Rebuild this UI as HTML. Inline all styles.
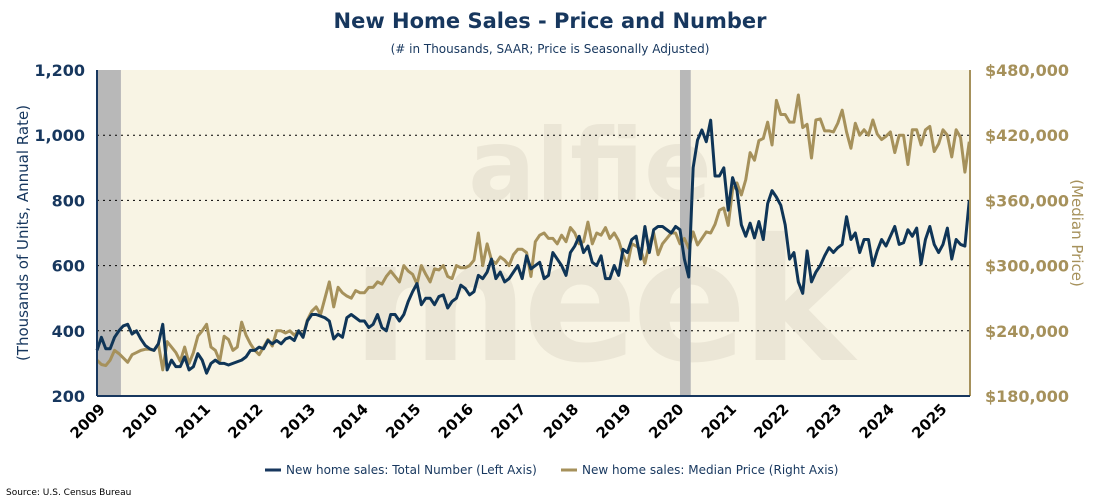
<!DOCTYPE html>
<html><head><meta charset="utf-8"><style>
body{margin:0;background:#fff;font-family:"DejaVu Sans","Liberation Sans",sans-serif;}
svg{display:block}
</style></head><body>
<svg id="chart" width="1100" height="500">
<text x="550" y="28" text-anchor="middle" font-size="21" font-weight="bold" fill="#17375e">New Home Sales - Price and Number</text>
<text x="550" y="53" text-anchor="middle" font-size="12" fill="#17375e">(# in Thousands, SAAR; Price is Seasonally Adjusted)</text>
<rect x="97" y="70" width="873" height="326" fill="#f8f4e4"/>
<text x="590" y="200" text-anchor="middle" font-size="100" font-weight="bold" fill="#ebe6d6">alfie</text>
<text x="600" y="360" text-anchor="middle" font-size="170" font-weight="bold" fill="#ebe6d6" letter-spacing="-6">meek</text>
<g id="bands"></g><g id="grid"></g><g id="series"></g>
<line x1="97" y1="70" x2="97" y2="396" stroke="#17375e" stroke-width="2"/>
<line x1="970" y1="70" x2="970" y2="396" stroke="#a6915b" stroke-width="2"/>
<line x1="97" y1="396" x2="970" y2="396" stroke="#17375e" stroke-width="2"/>
<g id="ticks"></g>
<text transform="translate(28,233) rotate(-90)" text-anchor="middle" font-size="15" fill="#17375e">(Thousands of Units, Annual Rate)</text>
<text transform="translate(1072,233) rotate(90)" text-anchor="middle" font-size="15" fill="#a6915b">(Median Price)</text>
<g><line x1="265" y1="470" x2="281" y2="470" stroke="#17375e" stroke-width="3"/><text x="286" y="474" font-size="12" fill="#17375e">New home sales: Total Number (Left Axis)</text></g>
<g><line x1="561" y1="470" x2="577" y2="470" stroke="#a6915b" stroke-width="3"/><text x="582" y="474" font-size="12" fill="#17375e">New home sales: Median Price (Right Axis)</text></g>
<text x="6" y="495" font-size="9" fill="#000">Source: U.S. Census Bureau</text>
</svg>
<script>
const years=['2009','2010','2011','2012','2013','2014','2015','2016','2017','2018','2019','2020','2021','2022','2023','2024','2025'];
const leftTicks=[200,400,600,800,1000,1200];
const leftTickLabels=['200','400','600','800','1,000','1,200'];
const rightTicks=[180,240,300,360,420,480];
const rightTickLabels=['$180,000','$240,000','$300,000','$360,000','$420,000','$480,000'];
const recessions=[[0,5],[133,135]];
const sales=[340,380,345,345,380,400,415,420,390,400,375,355,
345,340,360,420,280,310,290,290,320,280,290,330,
310,270,300,310,300,300,295,300,305,310,320,340,
340,350,345,370,360,370,360,375,380,370,400,380,
430,450,450,445,440,430,375,390,380,440,450,440,
430,430,410,420,450,410,400,450,450,430,450,490,
520,545,480,500,500,480,505,510,470,490,500,540,
530,510,520,570,560,580,620,560,580,550,560,580,
600,560,630,590,600,610,560,570,640,620,600,570,
640,660,690,640,660,610,600,630,560,560,600,570,
650,640,680,690,620,720,640,710,720,720,710,700,
720,710,620,
565,900,985,1016,980,1046,875,875,900,770,870,830,725,690,730,685,735,680,790,830,810,785,725,620,640,550,515,645,550,580,600,630,655,640,655,665,750,680,700,640,680,680,600,645,680,660,690,720,665,670,710,690,715,605,680,720,665,640,665,715,620,680,665,660,800];
const price=[213,209,208,213,222,219,215,211,218,220,222,223,
223,222,228,204,230,225,220,212,225,210,220,235,
240,246,225,222,212,235,232,222,225,248,236,228,
222,218,225,232,226,240,240,238,240,236,240,235,
250,258,262,255,270,285,262,280,275,272,270,277,
275,275,280,280,285,283,290,295,290,285,300,295,
292,283,300,292,285,297,296,300,290,288,300,298,
298,300,305,330,300,320,305,302,308,305,300,310,
315,315,312,290,322,328,330,325,325,320,328,322,
335,330,320,322,340,320,330,328,335,325,330,323,
310,300,320,318,315,302,320,330,310,320,325,330,
330,320,325,
316,331,319,325,331,330,338,351,353,337,370,376,365,379,404,397,415,417,432,411,452,439,439,432,432,457,427,430,399,434,435,424,424,423,431,443,423,408,431,420,425,420,434,421,416,419,423,404,420,420,393,425,425,411,425,428,405,412,425,420,400,425,418,386,414];
const NS='http://www.w3.org/2000/svg';
const X0=97,X1=970,Y0=396,Y1=70,monthW=52.6/12;
function x(i){return X0+i*monthW;}
function yL(v){return Y0-(v-200)/1000*(Y0-Y1);}
function yR(v){return Y0-(v-180)/300*(Y0-Y1);}
function mk(tag,attrs,parent){const e=document.createElementNS(NS,tag);for(const k in attrs)e.setAttribute(k,attrs[k]);document.getElementById(parent).appendChild(e);return e;}
recessions.forEach(r=>{const e=mk('rect',{x:x(r[0]),y:Y1,width:x(r[1])-x(r[0])+2,height:Y0-Y1,fill:'#b8b8b8'},'bands');

});
leftTicks.forEach((v,i)=>{
if(v>200&&v<1200){const g=mk('line',{x1:X0,x2:X1,y1:yL(v),y2:yL(v),stroke:'#000','stroke-dasharray':'2,4','stroke-width':1},'grid');

}
const t=mk('text',{x:85,y:yL(v)+6,'text-anchor':'end','font-size':16,'font-weight':'bold',fill:'#17375e'},'ticks');t.textContent=leftTickLabels[i];

});
rightTicks.forEach((v,i)=>{const t=mk('text',{x:985,y:yR(v)+6,'font-size':16,'font-weight':'bold',fill:'#a6915b'},'ticks');t.textContent=rightTickLabels[i];

});
years.forEach((yv,i)=>{const px=x(i*12);const t=mk('text',{transform:`translate(${px+9},${Y0+14}) rotate(-45)`,'text-anchor':'end','font-size':15,'font-weight':'bold',fill:'#000'},'ticks');t.textContent=yv;

});
const pp=mk('polyline',{points:price.map((v,i)=>x(i)+','+yR(v)).join(' '),fill:'none',stroke:'#a6915b','stroke-width':3,'stroke-linejoin':'round'},'series');


const sp=mk('polyline',{points:sales.map((v,i)=>x(i)+','+yL(v)).join(' '),fill:'none',stroke:'#0f3557','stroke-width':3,'stroke-linejoin':'round'},'series');


</script>
</body></html>
